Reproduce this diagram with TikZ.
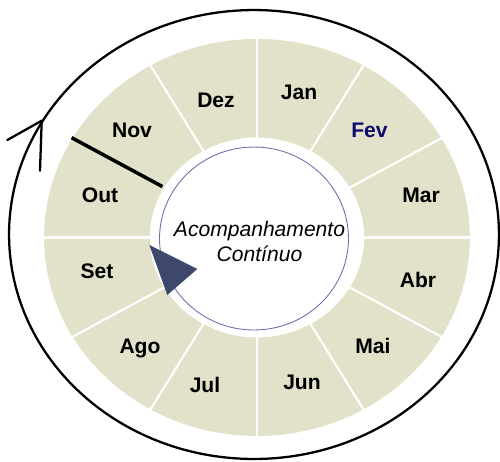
\documentclass[tikz,border=0pt]{standalone}
\usepackage{fontspec}
\setmainfont{Liberation Sans}
\definecolor{ringbeige}{RGB}{226,226,202}
\definecolor{fevblue}{RGB}{12,12,110}
\definecolor{pointer}{RGB}{62,72,108}
\definecolor{thinblue}{RGB}{110,110,175}
\tikzset{
  ringfill/.style={fill=ringbeige},
  divider/.style={draw=white,line width=1.2pt},
  hand/.style={draw=black,line width=2pt},
  monthlbl/.style={font=\fontsize{12}{14}\selectfont\bfseries,text height=8.6pt,text depth=0pt,inner sep=0pt},
  cycle/.style={draw=black,line width=1.3pt},
  centertxt/.style={font=\fontsize{12}{14.2}\selectfont\itshape,align=center,inner sep=0pt}
}
\begin{document}
\begin{tikzpicture}[x=0.02cm,y=-0.02cm]
\useasboundingbox (0,0) rectangle (500,461);
% outer cycle ellipse
\coordinate (oc) at (254,234.5);
\draw[cycle] (oc) ellipse [x radius=4.9cm, y radius=4.49cm];
\coordinate (apex) at (41.7,120.7);
\coordinate (barbA) at (7.3,140);
\coordinate (barbB) at (40,170.7);
\draw[cycle,line cap=round,line join=round] (barbA) -- (apex) -- (barbB);
% ring
\begin{scope}[shift={(5.14cm,-4.75cm)},x=0.02146cm,y=0.02cm]
  \fill[ringfill,even odd rule] (0,0) circle [radius=198.5] (0,0) circle [radius=100];
  \foreach \a in {0,30,...,120,180,210,...,330}
    \draw[divider] (\a:99) -- (\a:199.5);
  \draw[hand] (150:101.8) -- (150:199.6);
\end{scope}
% month labels
\node[monthlbl] (jan) at (299,92) {Jan};
\node[monthlbl,text=fevblue] (fev) at (369.5,129.5) {Fev};
\node[monthlbl] (mar) at (421,195) {Mar};
\node[monthlbl] (abr) at (418,280) {Abr};
\node[monthlbl] (mai) at (373,346) {Mai};
\node[monthlbl] (jun) at (302,382) {Jun};
\node[monthlbl] (jul) at (205,385) {Jul};
\node[monthlbl] (ago) at (140,346) {Ago};
\node[monthlbl] (set) at (97,271) {Set};
\node[monthlbl] (out) at (100,195) {Out};
\node[monthlbl] (nov) at (132,130) {Nov};
\node[monthlbl] (dez) at (216,100) {Dez};
% inner thin circle
\draw[thinblue,line width=0.5pt] (254,238.5) ellipse [x radius=1.89cm, y radius=1.83cm];
\node[centertxt] (ctr) at (259.5,241.5) {Acompanhamento\\Contínuo};
% pointer triangle
\coordinate (t1) at (149.3,245);
\coordinate (t2) at (197.3,269);
\coordinate (t3) at (167.3,295);
\fill[pointer] (t1) -- (t2) -- (t3) -- cycle;
\end{tikzpicture}
\end{document}
